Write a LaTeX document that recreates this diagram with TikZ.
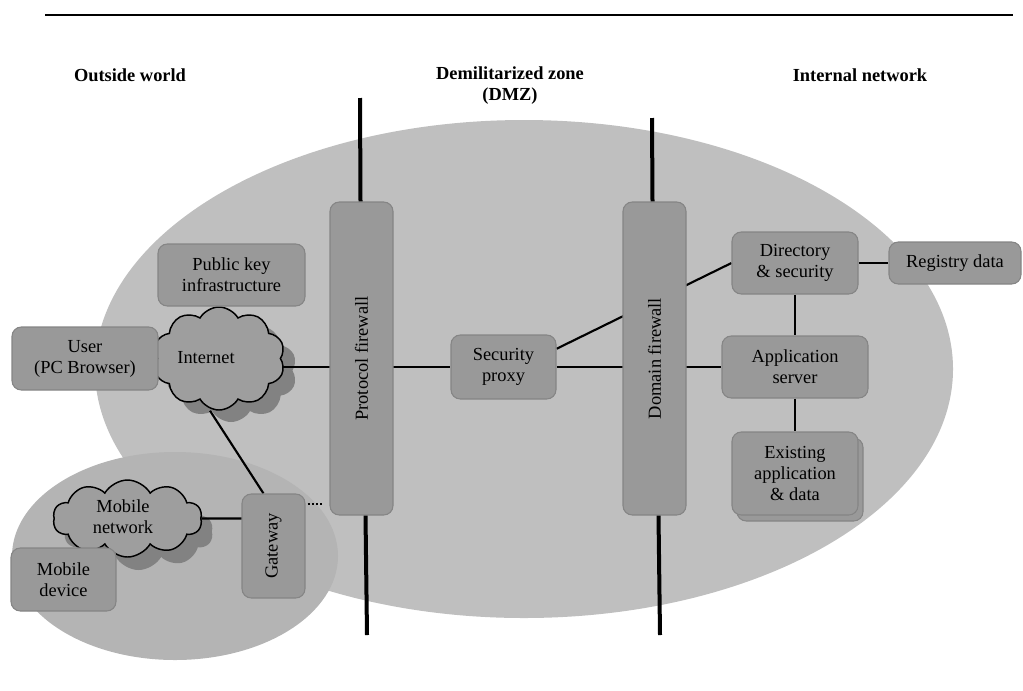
\documentclass[tikz,border=0pt]{standalone}
\usepackage{fontspec}
\setmainfont{Liberation Serif}
\usetikzlibrary{shapes.symbols,calc}
\pgfdeclarelayer{zones}
\pgfdeclarelayer{links}
\pgfsetlayers{zones,links,main}
\definecolor{zonebig}{gray}{0.75}
\definecolor{zonesmall}{gray}{0.705}
\definecolor{boxfill}{gray}{0.6}
\definecolor{boxline}{gray}{0.52}
\definecolor{cloudfill}{gray}{0.62}
\definecolor{cloudshadow}{gray}{0.51}
% sizes given in drawing units (1 unit = 0.75pt)
\newcommand\pxl[1]{#1*0.75pt}
\begin{document}
\begin{tikzpicture}[x=0.75pt,y=-0.75pt,
  font=\fontsize{13.8}{15.8}\selectfont,
  box/.style={draw=boxline, fill=boxfill, line width=0.8pt, rounded corners=7pt,
    align=center, inner sep=0pt},
  netcloud/.style={cloud, cloud puffs=10, cloud puff arc=120, cloud ignores aspect,
    draw=black, line width=1.1pt, fill=cloudfill, inner sep=0pt, align=center},
  cloudshade/.style={cloud, cloud puffs=10, cloud puff arc=120, cloud ignores aspect,
    fill=cloudshadow, inner sep=0pt},
  link/.style={line width=1.6pt},
  wall/.style={line width=3pt},
  head/.style={font=\fontsize{13.8}{15.8}\selectfont\bfseries, align=center}]

\useasboundingbox (0,0) rectangle (1023,690);

% rule at the top
\draw[line width=1.2pt] (45,15) -- (1013,15);

% zone headings
\node[head] (hout) at (130,75) {Outside world};
\node[head] (hdmz) at (510,86) {Demilitarized zone\\(DMZ)};
\node[head] (hin)  at (860,75) {Internal network};

% zones and cloud shadows
\begin{pgfonlayer}{zones}
  \fill[zonebig] (524,369) ellipse [x radius=429, y radius=249];
  \fill[zonesmall] (175,556) ellipse [x radius=163, y radius=104];
  \node[cloudshade, minimum width=\pxl{132}, minimum height=\pxl{103}] (inetsh) at (231,370.5) {};
  \node[cloudshade, minimum width=\pxl{149}, minimum height=\pxl{77}] (mobsh) at (138.5,531.5) {};
\end{pgfonlayer}

% firewalls
\node[box, minimum width=\pxl{63}, minimum height=\pxl{313}] (pfw) at (361.5,358.5) {};
\node[rotate=90] (pfwlabel) at (pfw) {Protocol firewall};
\node[box, minimum width=\pxl{63}, minimum height=\pxl{313}] (dfw) at (654.5,358.5) {};
\node[rotate=90] (dfwlabel) at (dfw) {Domain firewall};

% outside world
\node[netcloud, minimum width=\pxl{132}, minimum height=\pxl{103}] (inet) at (219,358.5) {};
\node (inetlabel) at (206,358) {Internet};
\node[box, minimum width=\pxl{147}, minimum height=\pxl{62}] (pki) at (231.5,275) {Public key\\infrastructure};
\node[box, minimum width=\pxl{146}, minimum height=\pxl{63}] (user) at (85,358.5) {User\\(PC Browser)};
\node[netcloud, minimum width=\pxl{149}, minimum height=\pxl{77}] (mob) at (127.5,518.5) {};
\node[align=center] (moblabel) at (123,517) {Mobile\\network};
\node[box, minimum width=\pxl{105}, minimum height=\pxl{63}] (mdev) at (63.5,579.5) {Mobile\\device};
\node[box, minimum width=\pxl{63}, minimum height=\pxl{104}] (gw) at (273.5,546) {};
\node[rotate=90] (gwlabel) at (gw) {Gateway};

% demilitarized zone
\node[box, minimum width=\pxl{105}, minimum height=\pxl{64}] (sp) at (503.5,367) {Security\\proxy};

% internal network
\node[box, minimum width=\pxl{126}, minimum height=\pxl{62}] (dir) at (795,263) {Directory\\\& security};
\node[box, minimum width=\pxl{132}, minimum height=\pxl{42}] (reg) at (955,263) {Registry data};
\node[box, minimum width=\pxl{146}, minimum height=\pxl{62}] (app) at (795,367) {Application\\server};
\node[box, minimum width=\pxl{126}, minimum height=\pxl{83}] (exback) at (800,479.5) {};
\node[box, minimum width=\pxl{126}, minimum height=\pxl{83}] (ex) at (795,473.5) {Existing\\application\\\& data};

% free ends of the firewall lines
\coordinate (pfwtop) at (360,98);
\coordinate (pfwbot) at (367,635);
\coordinate (dfwtop) at (652,118);
\coordinate (dfwbot) at (660,635);
\coordinate (gwport) at ($(gw.north east)!0.1!(gw.south east)$);

% connectors
\begin{pgfonlayer}{links}
  \draw[link] (inet |- sp) -- (sp) -- (app);
  \draw[link] ($(sp.north east)!0.22!(sp.south east)$) -- (dir.west);
  \draw[link] (dir) -- (reg);
  \draw[link] (dir) -- (app) -- (ex);
  \draw[link] ([xshift=\pxl{-9}]inet.south) -- ([xshift=\pxl{-10}]gw.north);
  \draw[link] (mob) -- (mob -| gw);
\end{pgfonlayer}
\draw[line width=2pt, dash pattern=on 1.6pt off 1.6pt, shorten <=1.5pt, shorten >=5pt]
  (gwport) -- (gwport -| pfw.west);

\draw[wall] (pfwtop) -- ([xshift=\pxl{-1}]pfw.north);
\draw[wall] ([xshift=\pxl{4}]pfw.south) -- (pfwbot);
\draw[wall] (dfwtop) -- ([xshift=\pxl{-2}]dfw.north);
\draw[wall] ([xshift=\pxl{4}]dfw.south) -- (dfwbot);
\end{tikzpicture}
\end{document}
